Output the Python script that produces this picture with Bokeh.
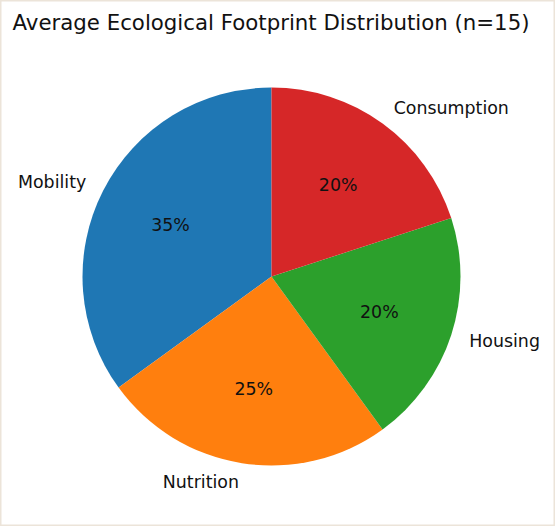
import numpy as np
from bokeh.plotting import figure
from bokeh.models import Range1d
from bokeh.core.properties import value
from bokeh.embed import file_html
from bokeh.resources import INLINE

# Share of the average ecological footprint per category (percent)
categories = ["Mobility", "Nutrition", "Housing", "Consumption"]
shares = [35, 25, 20, 20]
colors = ["#1f77b4", "#ff7f0e", "#2ca02c", "#d62728"]
title = "Average Ecological Footprint Distribution (n=15)"

W, H = 555, 526
cx, cy, R = 271, H - 276, 189
font = value("DejaVu Sans")

p = figure(width=W, height=H, output_backend="svg", toolbar_location=None,
           x_range=Range1d(0, W), y_range=Range1d(0, H), min_border=0)
p.axis.visible = False
p.grid.visible = False
p.outline_line_color = "#ece4d9"
p.outline_line_width = 2
p.background_fill_color = "white"
p.border_fill_color = "white"

# Wedges start at 12 o'clock and run counter-clockwise
frac = np.array(shares, dtype=float) / sum(shares)
ends = np.pi / 2 + 2 * np.pi * np.cumsum(frac)
starts = ends - 2 * np.pi * frac
mids = (starts + ends) / 2

p.wedge(x=[cx] * len(shares), y=[cy] * len(shares), radius=R,
        start_angle=list(starts), end_angle=list(ends), direction="anticlock",
        fill_color=colors, line_color=None)

# Category labels just outside the rim
lx = cx + 1.1 * R * np.cos(mids)
ly = cy + 1.1 * R * np.sin(mids)
align = ["left" if np.cos(m) > 0 else "right" for m in mids]
p.text(x=list(lx), y=list(ly), text=categories, text_align=align,
       text_baseline="middle", text_font=font, text_font_size="17.4px",
       text_color="#111111")

# Percentage labels inside the wedges
px = cx + 0.6 * R * np.cos(mids)
py = cy + 0.6 * R * np.sin(mids)
p.text(x=list(px), y=list(py), text=[f"{s:.0f}%" for s in shares],
       text_align="center", text_baseline="middle", text_font=font,
       text_font_size="17.4px", text_color="#111111")

p.text(x=[W / 2 - 7], y=[H - 22], text=[title], text_align="center",
       text_baseline="middle", text_font=font, text_font_size="21.3px",
       text_color="#111111")

open("out.html", "w").write(file_html(p, INLINE))
